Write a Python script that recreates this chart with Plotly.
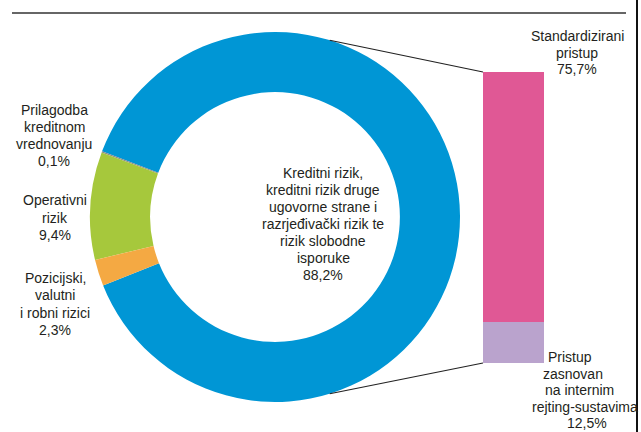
import math
import plotly.graph_objects as go

W, H = 641, 432

# Udio u ukupnoj izloženosti riziku (%)
risk_names = [
    "Kreditni rizik, kreditni rizik druge ugovorne strane i razrjeđivački rizik te rizik slobodne isporuke",
    "Prilagodba kreditnom vrednovanju",
    "Operativni rizik",
    "Pozicijski, valutni i robni rizici",
]
risk_shares = [88.2, 0.1, 9.4, 2.3]
risk_lines = [
    ["Kreditni rizik,", "kreditni rizik druge", "ugovorne strane i",
     "razrjeđivački rizik te", "rizik slobodne", "isporuke"],
    ["Prilagodba", "kreditnom", "vrednovanju"],
    ["Operativni", "rizik"],
    ["Pozicijski,", "valutni", "i robni rizici"],
]
risk_colors = ["#0096d5", "#8a8a8a", "#a6c83c", "#f4a943"]

# Raščlamba kreditnog rizika po pristupu (%)
approach_names = ["Pristup zasnovan na internim rejting-sustavima", "Standardizirani pristup"]
approach_shares = [12.5, 75.7]
approach_lines = [
    ["Pristup", "zasnovan", "na internim", "rejting-sustavima"],
    ["Standardizirani", "pristup"],
]
approach_colors = ["#baa3cd", "#e05895"]

FONT = "Liberation Sans, Arial, sans-serif"
TXT = "#231f20"


def px(x):
    return x / W


def py(y):
    return (H - y) / H


def pct(v):
    return f"{v:.1f}".replace(".", ",") + "%"


# geometrija (pikseli slike)
cx, cy, R = 275, 217, 185
bar_x0, bar_x1, bar_top, bar_bot = 483, 544, 72, 363
start_deg = 201.7  # donji rub kreditnog rizika (matematicki kut)
top_deg = start_deg - 360 * sum(risk_shares[1:]) / sum(risk_shares)

fig = go.Figure()

fig.add_trace(go.Pie(
    labels=risk_names,
    values=risk_shares,
    hole=0.675,
    sort=False,
    direction="counterclockwise",
    rotation=90 - top_deg,
    marker=dict(colors=risk_colors, line=dict(width=0)),
    textinfo="none",
    hoverinfo="label+value",
    domain=dict(x=[px(cx - R), px(cx + R)], y=[py(cy + R), py(cy - R)]),
    showlegend=False,
))

for name, val, col in zip(approach_names, approach_shares, approach_colors):
    fig.add_trace(go.Bar(
        x=[0], y=[val], name=name, width=1,
        marker=dict(color=col, line=dict(width=0)),
        showlegend=False,
        hovertemplate=name + ": %{y}%<extra></extra>",
    ))

# tekstovi - svaki red posebno zbog gustog proreda
blocks = [
    (risk_lines[0] + [pct(risk_shares[0])], [323] * 7, 173, 17.0),
    (risk_lines[1] + [pct(risk_shares[1])], [54] * 4, 110, 17.0),
    (risk_lines[2] + [pct(risk_shares[2])], [55] * 3, 200, 17.5),
    (risk_lines[3] + [pct(risk_shares[3])], [55] * 4, 278, 17.3),
    (approach_lines[1] + [pct(approach_shares[1])], [577] * 3, 36, 16.5),
    (approach_lines[0] + [pct(approach_shares[0])], [570, 573, 579, 585, 587], 357, 16.6),
]
annotations = []
for lines, xs, y0, step in blocks:
    for i, (line, x) in enumerate(zip(lines, xs)):
        annotations.append(dict(
            text=line, x=px(x), y=py(y0 + i * step),
            xref="paper", yref="paper", xanchor="center", yanchor="middle",
            showarrow=False, font=dict(family=FONT, size=14, color=TXT),
        ))

# spojnice od kruga do stupca
a = math.radians(72.8)
top_pt = (cx + R * math.cos(a), cy - R * math.sin(a))
bot_pt = (cx + R * math.cos(a), cy + R * math.sin(a))
shapes = [
    dict(type="line", xref="paper", yref="paper",
         x0=px(top_pt[0]), y0=py(top_pt[1]), x1=px(bar_x0), y1=py(bar_top),
         line=dict(color="#222", width=1.2)),
    dict(type="line", xref="paper", yref="paper",
         x0=px(bot_pt[0]), y0=py(bot_pt[1]), x1=px(bar_x0), y1=py(bar_bot),
         line=dict(color="#222", width=1.2)),
    dict(type="line", xref="paper", yref="paper",
         x0=px(12), y0=py(13), x1=px(626), y1=py(13),
         line=dict(color="#333", width=1.5)),
    dict(type="line", xref="paper", yref="paper",
         x0=px(637), y0=0, x1=px(637), y1=1,
         line=dict(color="#111", width=2)),
]

fig.update_layout(
    width=W, height=H,
    margin=dict(t=0, b=0, l=0, r=0),
    paper_bgcolor="white", plot_bgcolor="white",
    barmode="stack",
    xaxis=dict(domain=[px(bar_x0), px(bar_x1)], range=[-0.5, 0.5], visible=False, fixedrange=True),
    yaxis=dict(domain=[py(bar_bot), py(bar_top)], range=[0, sum(approach_shares)], visible=False, fixedrange=True),
    annotations=annotations,
    shapes=shapes,
    separators=", ",
)

# bez ruba stranice, da graf stane tocno u prozor
fig.write_html("out.html", config={"displayModeBar": False},
               post_script="document.body.style.margin='0';")
